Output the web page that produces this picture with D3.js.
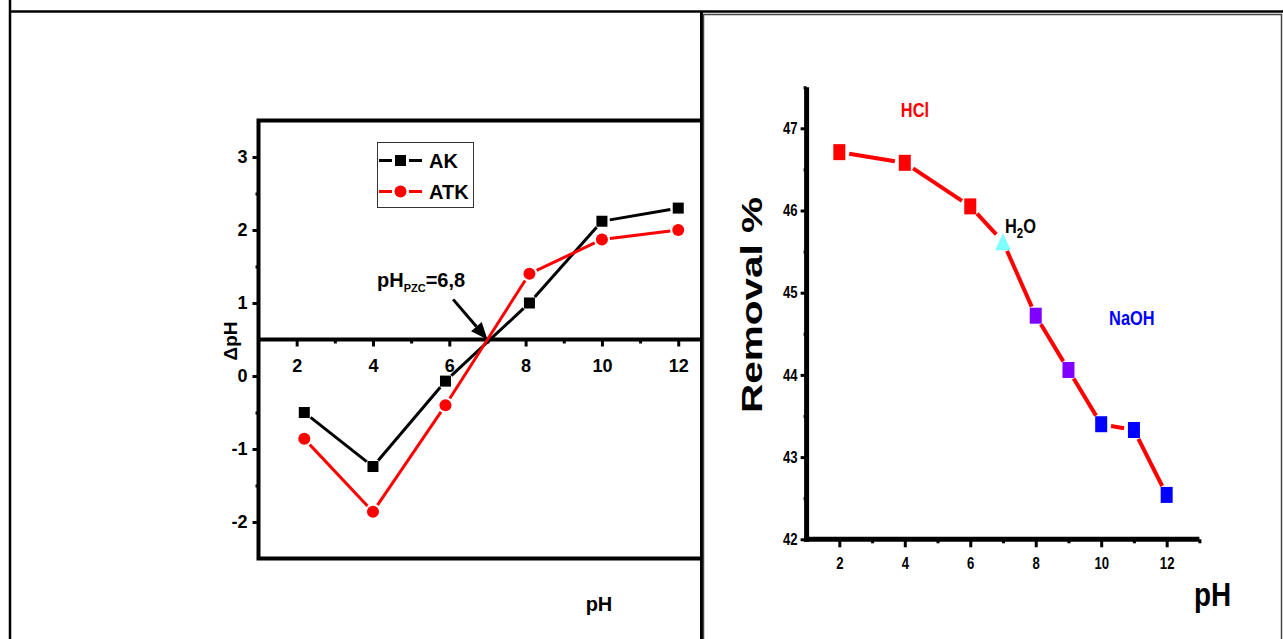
<!DOCTYPE html>
<head>
<meta charset="utf-8">
<title>pHpzc and removal vs pH</title>
<script src="https://d3js.org/d3.v7.min.js"></script>
<style>
  body { margin: 0; background: #fff; }
  text { font-family: "Liberation Sans", Arial, sans-serif; font-weight: bold; }
</style>
</head>
<body>
<div id="chart"></div>
<script>
// ---- data ----
// left panel: delta pH vs initial pH
var phLeft = [2.2, 4, 5.9, 8.1, 10, 12];
var akDpH = [-0.5, -1.24, -0.07, 1.0, 2.12, 2.3];
var atkDpH = [-0.86, -1.86, -0.4, 1.4, 1.87, 2.0];
var leftXTicks = [2, 4, 6, 8, 10, 12];
var leftYTicks = [-2, -1, 0, 1, 2, 3];
var seriesNames = ["AK", "ATK"];

// right panel: removal % vs pH
var phRight = [2, 4, 6, 7, 8, 9, 10, 11, 12];
var removal = [46.71, 46.58, 46.05, 45.62, 44.72, 44.06, 43.40, 43.33, 42.54];
var pointColors = ["#ff0000", "#ff0000", "#ff0000", "#80ffff", "#8000ff", "#8000ff", "#0000ff", "#0000ff", "#0000ff"];
var rightXTicks = [2, 4, 6, 8, 10, 12];
var rightYTicks = [42, 43, 44, 45, 46, 47];

var W = 1283, H = 639;
var NARROW = 0.82; // no narrow face installed, squeeze Liberation Sans instead

var svg = d3.select("#chart").append("svg")
    .attr("width", W).attr("height", H);

svg.append("rect").attr("width", W).attr("height", H).attr("fill", "#fff");

// draws a polyline whose segments stop short of each marker (Origin style)
function gappedSegments(g, pts, gap, color, width) {
  for (var i = 0; i < pts.length - 1; i++) {
    var a = pts[i], b = pts[i + 1];
    var dx = b[0] - a[0], dy = b[1] - a[1];
    var len = Math.sqrt(dx * dx + dy * dy);
    if (len <= 2 * gap) continue;
    var ux = dx / len, uy = dy / len;
    g.append("line")
      .attr("x1", a[0] + ux * gap).attr("y1", a[1] + uy * gap)
      .attr("x2", b[0] - ux * gap).attr("y2", b[1] - uy * gap)
      .attr("stroke", color).attr("stroke-width", width);
  }
}

function squeeze(sel) {
  sel.each(function() {
    var t = d3.select(this);
    var x = +t.attr("x") || 0;
    t.attr("x", x / NARROW).attr("transform", "scale(" + NARROW + ",1)");
  });
}

function narrowLabel(g, x, y, size) {
  return g.append("text")
    .attr("transform", "translate(" + x + "," + y + ") scale(" + NARROW + ",1)")
    .style("font-size", size + "px");
}

// ---------------- left panel ----------------
svg.append("clipPath").attr("id", "leftClip")
  .append("rect").attr("x", 0).attr("y", 0).attr("width", 700).attr("height", H);

var left = svg.append("g").attr("clip-path", "url(#leftClip)");

var xL = d3.scaleLinear().domain([1, 13]).range([258.5, 716.4]);
var yL = d3.scaleLinear().domain([-2.5, 3.5]).range([558.5, 120.5]);

// frame
left.append("rect")
  .attr("x", xL(1)).attr("y", yL(3.5))
  .attr("width", xL(13) - xL(1)).attr("height", yL(-2.5) - yL(3.5))
  .attr("fill", "none").attr("stroke", "#000").attr("stroke-width", 4);

// y axis
var yAxisL = left.append("g")
  .attr("transform", "translate(" + xL(1) + ",0)")
  .call(d3.axisLeft(yL).tickValues(leftYTicks).tickSize(6).tickPadding(5)
    .tickFormat(function(d) { return String(d); }));
yAxisL.select(".domain").remove();
yAxisL.selectAll("line").attr("stroke-width", 3);
yAxisL.selectAll("text").style("font-size", "18px").attr("fill", "#000");

left.append("g")
  .attr("transform", "translate(" + xL(1) + ",0)")
  .call(d3.axisLeft(yL).tickValues([-1.5, -0.5, 1.5, 2.5]).tickSize(3).tickFormat(""))
  .call(function(g) { g.select(".domain").remove(); g.selectAll("line").attr("stroke-width", 3); });

// x axis through delta pH = 0.5
left.append("line")
  .attr("x1", xL(1)).attr("x2", xL(13))
  .attr("y1", yL(0.5)).attr("y2", yL(0.5))
  .attr("stroke", "#000").attr("stroke-width", 4);

var xAxisL = left.append("g")
  .attr("transform", "translate(0," + yL(0.5) + ")")
  .call(d3.axisBottom(xL).tickValues(leftXTicks).tickSize(7).tickPadding(13));
xAxisL.select(".domain").remove();
xAxisL.selectAll("line").attr("stroke-width", 3);
xAxisL.selectAll("text").style("font-size", "18px").attr("fill", "#000");

left.append("g")
  .attr("transform", "translate(0," + yL(0.5) + ")")
  .call(d3.axisBottom(xL).tickValues([3, 5, 7, 9, 11]).tickSize(4).tickFormat(""))
  .call(function(g) { g.select(".domain").remove(); g.selectAll("line").attr("stroke-width", 3); });

// axis titles
left.append("text")
  .attr("transform", "translate(237," + 341 + ") rotate(-90)")
  .attr("text-anchor", "middle")
  .style("font-size", "19px")
  .text("ΔpH");

left.append("text")
  .attr("x", 599).attr("y", 611)
  .attr("text-anchor", "middle")
  .style("font-size", "20px")
  .text("pH");

// series
var akPts = phLeft.map(function(d, i) { return [xL(d), yL(akDpH[i])]; });
var atkPts = phLeft.map(function(d, i) { return [xL(d), yL(atkDpH[i])]; });

var lines = left.append("g");
gappedSegments(lines, akPts, 8, "#000", 3);
gappedSegments(lines, atkPts, 8, "#ff0000", 3);

left.append("g").selectAll("rect")
  .data(akPts).enter().append("rect")
  .attr("x", function(d) { return d[0] - 5.5; })
  .attr("y", function(d) { return d[1] - 5.5; })
  .attr("width", 11).attr("height", 11)
  .attr("fill", "#000");

left.append("g").selectAll("circle")
  .data(atkPts).enter().append("circle")
  .attr("cx", function(d) { return d[0]; })
  .attr("cy", function(d) { return d[1]; })
  .attr("r", 6)
  .attr("fill", "#ff0000");

// legend
var leg = left.append("g");
leg.append("rect")
  .attr("x", 377.5).attr("y", 142.5).attr("width", 96).attr("height", 65)
  .attr("fill", "#fff").attr("stroke", "#333").attr("stroke-width", 1);
[160.5, 191.5].forEach(function(cy, i) {
  var col = i === 0 ? "#000" : "#ff0000";
  leg.append("line").attr("x1", 379).attr("x2", 392).attr("y1", cy).attr("y2", cy)
    .attr("stroke", col).attr("stroke-width", 3);
  leg.append("line").attr("x1", 409).attr("x2", 422).attr("y1", cy).attr("y2", cy)
    .attr("stroke", col).attr("stroke-width", 3);
  if (i === 0) {
    leg.append("rect").attr("x", 395).attr("y", cy - 5.5).attr("width", 11).attr("height", 11).attr("fill", col);
  } else {
    leg.append("circle").attr("cx", 400.5).attr("cy", cy).attr("r", 6).attr("fill", col);
  }
  leg.append("text").attr("x", 429).attr("y", cy + 7)
    .style("font-size", "20px").text(seriesNames[i]);
});

// pHpzc annotation
var ann = left.append("text").attr("x", 377).attr("y", 287).style("font-size", "20px");
ann.append("tspan").text("pH");
ann.append("tspan").attr("dy", 5).style("font-size", "11px").text("PZC");
ann.append("tspan").attr("dy", -5).text("=6,8");

var tail = [xL(6.1), yL(1.05)], tip = [xL(7.0), yL(0.5)];
var adx = tip[0] - tail[0], ady = tip[1] - tail[1];
var alen = Math.sqrt(adx * adx + ady * ady);
var ux = adx / alen, uy = ady / alen;
var headL = 17, headW = 7;
var base = [tip[0] - ux * headL, tip[1] - uy * headL];
left.append("line")
  .attr("x1", tail[0]).attr("y1", tail[1])
  .attr("x2", base[0]).attr("y2", base[1])
  .attr("stroke", "#000").attr("stroke-width", 3);
left.append("path")
  .attr("d", "M" + tip[0] + "," + tip[1] +
    "L" + (base[0] - uy * headW) + "," + (base[1] + ux * headW) +
    "L" + (base[0] + uy * headW) + "," + (base[1] - ux * headW) + "Z")
  .attr("fill", "#000");

// ---------------- right panel ----------------
var xR = d3.scaleLinear().domain([1, 13]).range([806.6, 1199.4]);
var yR = d3.scaleLinear().domain([42, 47.5]).range([539.3, 87.2]);
var right = svg.append("g");

var yAxisR = right.append("g")
  .attr("transform", "translate(" + xR(1) + ",0)")
  .call(d3.axisLeft(yR).tickValues(rightYTicks).tickSize(6).tickPadding(3)
    .tickFormat(d3.format("d")));
yAxisR.select(".domain").remove();
yAxisR.selectAll("line").attr("stroke-width", 3);
yAxisR.selectAll("text").style("font-size", "16px").attr("fill", "#000").call(squeeze);

right.append("g")
  .attr("transform", "translate(" + xR(1) + ",0)")
  .call(d3.axisLeft(yR).tickValues([42.5, 43.5, 44.5, 45.5, 46.5, 47.5]).tickSize(3).tickFormat(""))
  .call(function(g) { g.select(".domain").remove(); g.selectAll("line").attr("stroke-width", 3); });

var xAxisR = right.append("g")
  .attr("transform", "translate(0," + yR(42) + ")")
  .call(d3.axisBottom(xR).tickValues(rightXTicks).tickSize(8).tickPadding(10)
    .tickFormat(d3.format("d")));
xAxisR.select(".domain").remove();
xAxisR.selectAll("line").attr("stroke-width", 3);
xAxisR.selectAll("text").style("font-size", "16px").attr("fill", "#000").call(squeeze);

right.append("g")
  .attr("transform", "translate(0," + yR(42) + ")")
  .call(d3.axisBottom(xR).tickValues([3, 5, 7, 9, 11, 13]).tickSize(4).tickFormat(""))
  .call(function(g) { g.select(".domain").remove(); g.selectAll("line").attr("stroke-width", 3); });

// axis lines
right.append("line")
  .attr("x1", xR(1)).attr("x2", xR(1))
  .attr("y1", yR(47.5)).attr("y2", yR(42) + 2.5)
  .attr("stroke", "#000").attr("stroke-width", 5);
right.append("line")
  .attr("x1", xR(1) - 2.5).attr("x2", xR(13))
  .attr("y1", yR(42)).attr("y2", yR(42))
  .attr("stroke", "#000").attr("stroke-width", 5);

// titles
right.append("text")
  .attr("transform", "translate(762,413) rotate(-90)")
  .attr("textLength", 216).attr("lengthAdjust", "spacingAndGlyphs")
  .style("font-size", "30px")
  .text("Removal %");

narrowLabel(right, 1194, 606, 34).text("pH");

// series
var remPts = phRight.map(function(d, i) { return [xR(d), yR(removal[i])]; });
gappedSegments(right.append("g"), remPts, 10, "#ff0000", 4);

right.append("g").selectAll("path")
  .data(remPts).enter().append("path")
  .attr("d", function(d, i) {
    if (phRight[i] === 7) {
      return "M" + d[0] + "," + (d[1] - 8.5) + "L" + (d[0] + 8) + "," + (d[1] + 8.5) +
        "L" + (d[0] - 8) + "," + (d[1] + 8.5) + "Z";
    }
    return "M" + (d[0] - 6) + "," + (d[1] - 8) + "h12v16h-12Z";
  })
  .attr("fill", function(d, i) { return pointColors[i]; });

// medium labels
narrowLabel(right, xR(3.88), yR(47.14), 20).attr("fill", "#ff0000").text("HCl");
narrowLabel(right, xR(10.24), yR(44.61), 20).attr("fill", "#0000ff").text("NaOH");

var h2o = narrowLabel(right, xR(7.06), yR(45.73), 20);
h2o.append("tspan").text("H");
h2o.append("tspan").attr("dy", 5).style("font-size", "14px").text("2");
h2o.append("tspan").attr("dy", -5).text("O");

// ---------------- table borders ----------------
var frame = svg.append("g");
frame.append("line").attr("x1", 10).attr("x2", 10).attr("y1", 0).attr("y2", H)
  .attr("stroke", "#000").attr("stroke-width", 2.5);
frame.append("line").attr("x1", 9).attr("x2", W).attr("y1", 11.5).attr("y2", 11.5)
  .attr("stroke", "#000").attr("stroke-width", 2.5);
frame.append("line").attr("x1", 701.5).attr("x2", 701.5).attr("y1", 11).attr("y2", H)
  .attr("stroke", "#000").attr("stroke-width", 3);
frame.append("rect").attr("x", 703.5).attr("y", 14.5).attr("width", 578).attr("height", H)
  .attr("fill", "none").attr("stroke", "#444").attr("stroke-width", 1.5);
</script>
</body>
